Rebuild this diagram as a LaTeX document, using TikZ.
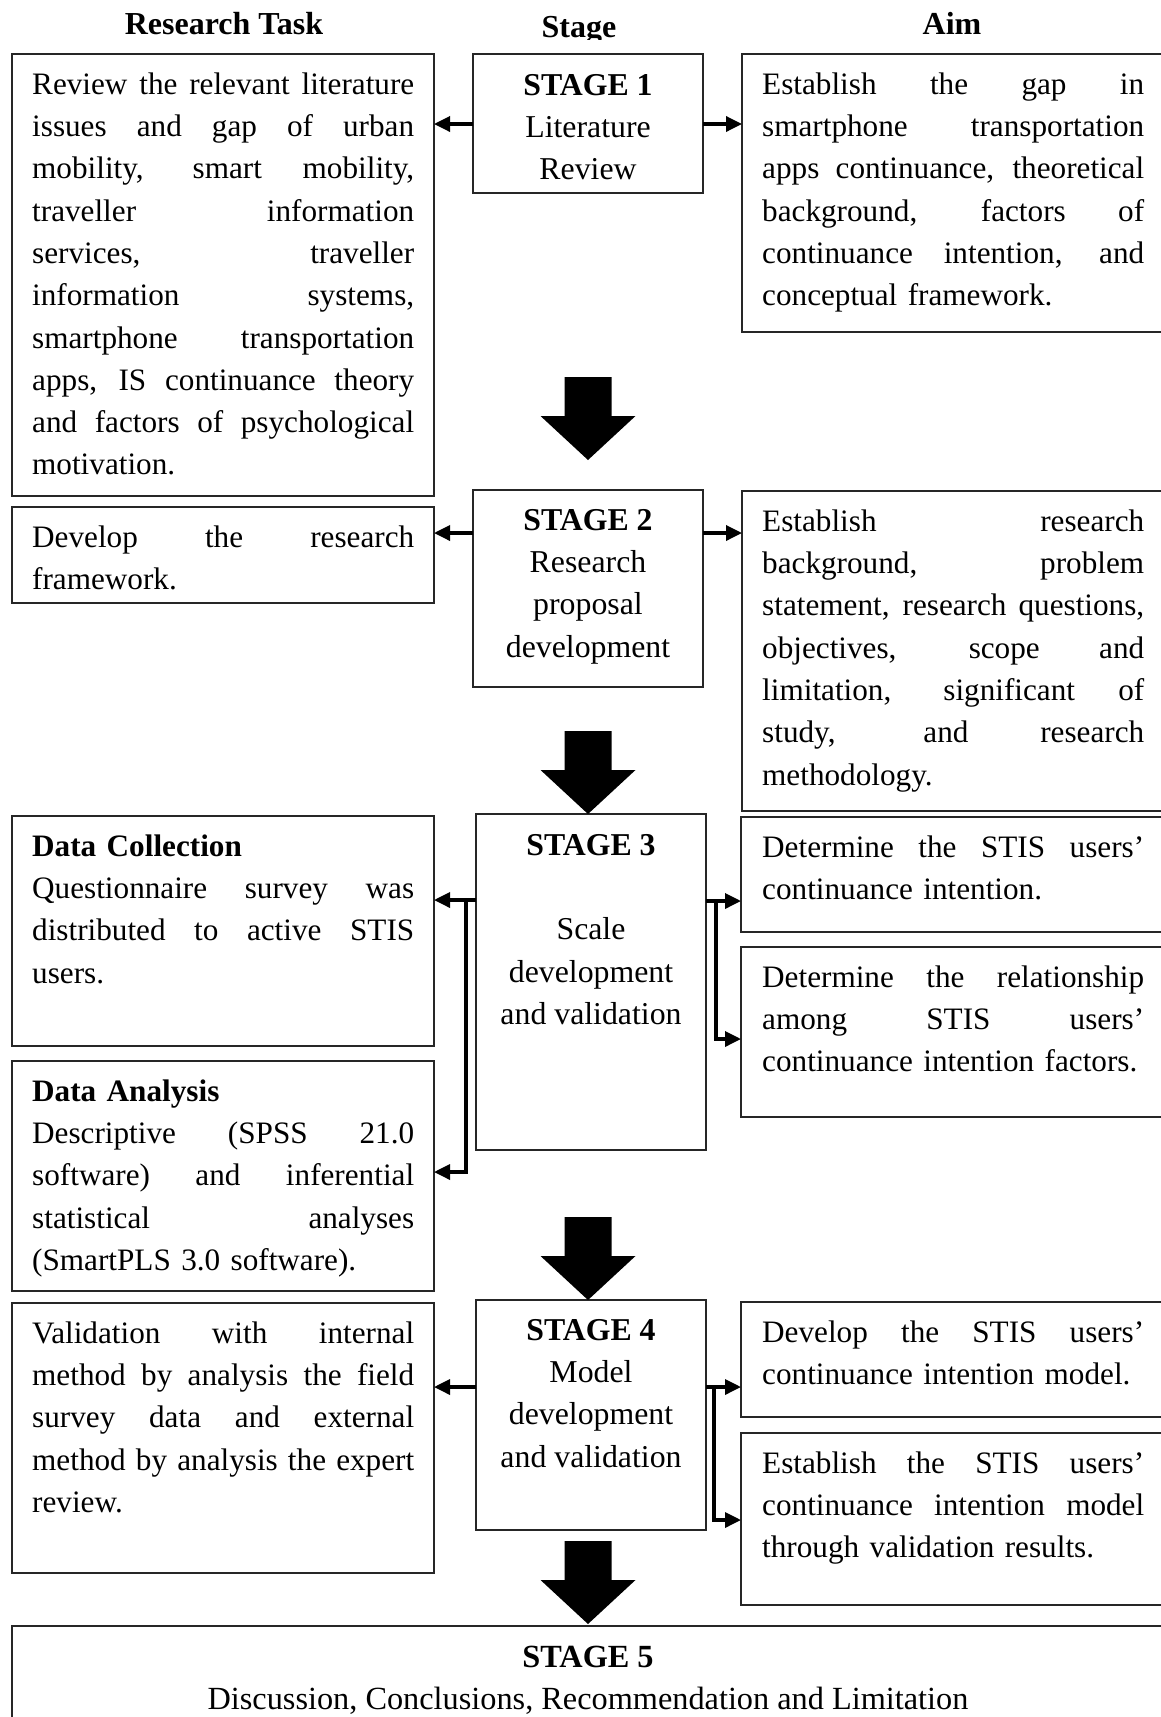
\documentclass[tikz,border=0pt]{standalone}
\usepackage{fontspec}
\setmainfont{Liberation Serif}
\usetikzlibrary{arrows.meta,calc}
\newcommand\tw{382pt}
\newcommand\jl[1]{{\spaceskip=\fontdimen2\font plus 1fil\xspaceskip=\spaceskip\makebox[\tw][s]{#1}}}
\newcommand\bigarr[2]{\fill[black] (#1-23.5,#2) -- (#1+23.5,#2) -- (#1+23.5,#2+39) -- (#1+47.5,#2+39) -- (#1,#2+83) -- (#1-47.5,#2+39) -- (#1-23.5,#2+39) -- cycle;}
\tikzset{
 box/.style={draw=black!85, line width=1.4pt, inner sep=0pt, outer sep=0pt, anchor=north west},
 txt/.style={inner sep=0pt, anchor=north west, text width=\tw, align=left, font=\fontsize{31.2}{42.3}\selectfont},
 stxt/.style={inner sep=0pt, anchor=north, align=center, font=\fontsize{31.8}{42.3}\selectfont},
 hdr/.style={inner sep=0pt, anchor=base, font=\fontsize{32}{36}\selectfont\bfseries},
 conn/.style={line width=3.4pt, -{Triangle[length=16pt,width=15pt]}},
}
\begin{document}
\begin{tikzpicture}[x=1pt,y=-1pt]
\useasboundingbox (0,0) rectangle (1161,1717);
\clip (0,0) rectangle (1161,1717);
\fill[white] (0,0) rectangle (1161,1717);

% headers
\node[hdr] (hRT) at (224,34) {Research Task};
\begin{scope}
\clip (480,0) rectangle (680,39);
\node[hdr] (hS) at (579,37) {Stage};
\end{scope}
\node[hdr] (hA) at (952,34) {Aim};

% left column boxes
\node[box, minimum width=422pt, minimum height=442pt] (L1) at (12,54) {};
\node[box, minimum width=422pt, minimum height=96pt] (L2) at (12,507) {};
\node[box, minimum width=422pt, minimum height=230pt] (LDC) at (12,816) {};
\node[box, minimum width=422pt, minimum height=230pt] (LDA) at (12,1061) {};
\node[box, minimum width=422pt, minimum height=270pt] (L5) at (12,1303) {};

% stage boxes
\node[box, minimum width=230pt, minimum height=139pt] (S1) at (473,54) {};
\node[box, minimum width=230pt, minimum height=197pt] (S2) at (473,490) {};
\node[box, minimum width=230pt, minimum height=336pt] (S3) at (476,814) {};
\node[box, minimum width=230pt, minimum height=230pt] (S4) at (476,1300) {};
\node[box, minimum width=1170pt, minimum height=110pt] (S5) at (12,1626) {};

% right column boxes
\node[box, minimum width=440pt, minimum height=278pt] (R1) at (742,54) {};
\node[box, minimum width=440pt, minimum height=320pt] (R2) at (742,491) {};
\node[box, minimum width=440pt, minimum height=115pt] (R3a) at (741,817) {};
\node[box, minimum width=440pt, minimum height=170pt] (R3b) at (741,947) {};
\node[box, minimum width=440pt, minimum height=115pt] (R4a) at (741,1302) {};
\node[box, minimum width=440pt, minimum height=172pt] (R4b) at (741,1433) {};

% left texts
\node[txt] (tL1) at ([shift={(20pt,-10.4pt)}]L1.north west) {\strut\jl{Review the relevant literature}\\
\jl{issues and gap of urban}\\
\jl{mobility, smart mobility,}\\
\jl{traveller information}\\
\jl{services, traveller}\\
\jl{information systems,}\\
\jl{smartphone transportation}\\
\jl{apps, IS continuance theory}\\
\jl{and factors of psychological}\\
motivation.};
\node[txt] (tL2) at ([shift={(20pt,-10.4pt)}]L2.north west) {\strut\jl{Develop the research}\\
framework.};
\node[txt] (tLDC) at ([shift={(20pt,-10.4pt)}]LDC.north west) {\strut\textbf{Data Collection}\\
\jl{Questionnaire survey was}\\
\jl{distributed to active STIS}\\
users.};
\node[txt] (tLDA) at ([shift={(20pt,-10.4pt)}]LDA.north west) {\strut\textbf{Data Analysis}\\
\jl{Descriptive (SPSS 21.0}\\
\jl{software) and inferential}\\
\jl{statistical analyses}\\
(SmartPLS 3.0 software).};
\node[txt] (tL5) at ([shift={(20pt,-10.4pt)}]L5.north west) {\strut\jl{Validation with internal}\\
\jl{method by analysis the field}\\
\jl{survey data and external}\\
\jl{method by analysis the expert}\\
review.};

% stage texts
\node[stxt] (tS1) at ([yshift=-11.4pt]S1.north) {\strut\textbf{STAGE 1}\\Literature\\Review};
\node[stxt] (tS2) at ([yshift=-10.4pt]S2.north) {\strut\textbf{STAGE 2}\\Research\\proposal\\development};
\node[stxt] (tS3) at ([yshift=-11.4pt]S3.north) {\strut\textbf{STAGE 3}\\[42.3pt]Scale\\development\\and validation};
\node[stxt] (tS4) at ([yshift=-10.4pt]S4.north) {\strut\textbf{STAGE 4}\\Model\\development\\and validation};
\node[stxt, font=\fontsize{32.3}{42.3}\selectfont] (tS5) at (588,1626) [yshift=-11.4pt] {\strut\textbf{STAGE 5}\\Discussion, Conclusions, Recommendation and Limitation};

% right texts
\node[txt] (tR1) at ([shift={(20pt,-10.4pt)}]R1.north west) {\strut\jl{Establish the gap in}\\
\jl{smartphone transportation}\\
\jl{apps continuance, theoretical}\\
\jl{background, factors of}\\
\jl{continuance intention, and}\\
conceptual framework.};
\node[txt] (tR2) at ([shift={(20pt,-10.4pt)}]R2.north west) {\strut\jl{Establish research}\\
\jl{background, problem}\\
\jl{statement, research questions,}\\
\jl{objectives, scope and}\\
\jl{limitation, significant of}\\
\jl{study, and research}\\
methodology.};
\node[txt] (tR3a) at ([shift={(21pt,-10.4pt)}]R3a.north west) {\strut\jl{Determine the STIS users’}\\
continuance intention.};
\node[txt] (tR3b) at ([shift={(21pt,-10.4pt)}]R3b.north west) {\strut\jl{Determine the relationship}\\
\jl{among STIS users’}\\
continuance intention factors.};
\node[txt] (tR4a) at ([shift={(21pt,-10.4pt)}]R4a.north west) {\strut\jl{Develop the STIS users’}\\
continuance intention model.};
\node[txt] (tR4b) at ([shift={(21pt,-10.4pt)}]R4b.north west) {\strut\jl{Establish the STIS users’}\\
\jl{continuance intention model}\\
through validation results.};

% connectors stage 1
\coordinate (a1) at ($(S1.north west)+(0,70)$);
\coordinate (b1) at ($(S1.north east)+(0,70)$);
\draw[conn] (a1) -- (a1 -| L1.east);
\draw[conn] (b1) -- (b1 -| R1.west);
% stage 2
\coordinate (a2) at ($(S2.north west)+(0,43)$);
\coordinate (b2) at ($(S2.north east)+(0,43)$);
\draw[conn] (a2) -- (a2 -| L2.east);
\draw[conn] (b2) -- (b2 -| R2.west);
% stage 3
\coordinate (a3) at ($(S3.north west)+(0,86)$);
\coordinate (a3b) at ($(a3)+(-10,0)$);
\coordinate (d3) at ($(LDA.north east)+(0,111)$);
\draw[conn] (a3) -- (a3 -| LDC.east);
\draw[conn] (a3b) |- (d3);
\coordinate (b3) at ($(S3.north east)+(0,87)$);
\coordinate (b3b) at ($(b3)+(10,0)$);
\coordinate (f3) at ($(R3b.north west)+(0,92)$);
\draw[conn] (b3) -- (b3 -| R3a.west);
\draw[conn] (b3b) |- (f3);
% stage 4
\coordinate (a4) at ($(S4.north west)+(0,87)$);
\coordinate (b4) at ($(S4.north east)+(0,87)$);
\coordinate (b4b) at ($(b4)+(8,0)$);
\coordinate (f4) at ($(R4b.north west)+(0,87)$);
\draw[conn] (a4) -- (a4 -| L5.east);
\draw[conn] (b4) -- (b4 -| R4a.west);
\draw[conn] (b4b) |- (f4);

% big arrows between stages
\bigarr{588}{377}
\bigarr{588}{731}
\bigarr{588}{1217}
\bigarr{588}{1541}
\end{tikzpicture}
\end{document}
